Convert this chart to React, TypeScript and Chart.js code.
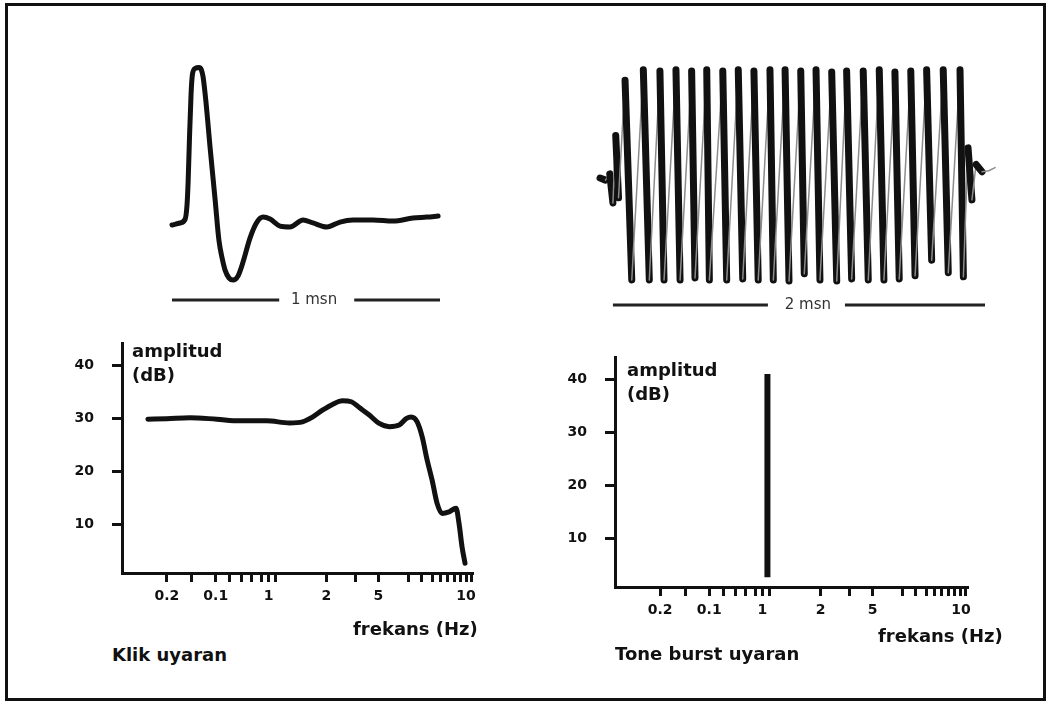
import React, { useEffect, useRef } from 'react';
import { Chart, registerables } from 'chart.js';

Chart.register(...registerables);

const FONT = "'DejaVu Sans', Verdana, sans-serif";

// Klik (click) stimulus waveform: time (ms) and relative amplitude
const clickTimeMs = [0, 0.03, 0.049, 0.056, 0.06, 0.065, 0.071, 0.076, 0.086, 0.101, 0.11, 0.116, 0.126, 0.143, 0.161, 0.175, 0.187, 0.198, 0.213, 0.228, 0.246, 0.265, 0.291, 0.317, 0.34, 0.366, 0.403, 0.44, 0.489, 0.526, 0.578, 0.627, 0.675, 0.75, 0.825, 0.899, 0.951, 0.993];
const clickAmp = [-0.019, -0.006, 0.019, 0.11, 0.253, 0.532, 0.825, 0.955, 0.997, 1.003, 0.987, 0.942, 0.792, 0.468, 0.143, -0.117, -0.234, -0.312, -0.364, -0.377, -0.351, -0.26, -0.104, 0, 0.032, 0.019, -0.026, -0.032, 0.013, -0.006, -0.032, 0, 0.013, 0.013, 0.006, 0.026, 0.032, 0.039];

// Tone burst stimulus waveform: time (ms) and relative amplitude
const burstTimeMs = [
  -0.064, -0.035, -0.012, 0.005, 0.02, 0.035,
  0.07, 0.106, 0.168, 0.2, 0.257, 0.279, 0.343, 0.365, 0.427, 0.445,
  0.508, 0.522, 0.594, 0.615, 0.677, 0.701, 0.761, 0.784, 0.847, 0.865,
  0.928, 0.949, 1.012, 1.031, 1.094, 1.115, 1.178, 1.205, 1.258, 1.285,
  1.347, 1.374, 1.433, 1.458, 1.517, 1.54, 1.602, 1.625, 1.687, 1.714,
  1.776, 1.803, 1.866, 1.884,
  1.909, 1.93, 1.952, 1.984, 2.02, 2.054,
];
const burstAmp = [
  -0.01, -0.03, 0.03, -0.25, 0.4, -0.2,
  0.93, -0.99, 1.03, -0.99, 1.02, -0.99, 1.03, -0.99, 1.02, -0.97,
  1.03, -0.99, 1.02, -0.99, 1.03, -0.98, 1.02, -0.99, 1.03, -0.99,
  1.03, -1.0, 1.02, -0.93, 1.03, -0.99, 1.01, -1.0, 1.02, -0.98,
  1.02, -0.99, 1.03, -0.99, 1.01, -0.98, 1.02, -0.95, 1.03, -0.8,
  1.03, -0.92, 1.03, -0.96,
  0.28, -0.22, 0.12, 0.05, 0.06, 0.09,
];

// Frequency axis (shared by both spectra): tick positions along the axis and their labels
const freqTickPos = [45, 70, 94, 108, 120, 130, 140, 147, 154, 205, 234, 257, 287, 300, 311, 319, 326, 333, 339, 345, 350];
const freqTickText = ['0.2', '', '0.1', '', '', '', '', '1', '', '2', '', '5', '', '', '', '', '', '', '', '10', ''];
const dbTicks = [10, 20, 30, 40];

// Klik spectrum: axis position and amplitude (dB)
const clickSpecPos = [26, 45, 68, 95, 118, 145, 168, 181, 191, 201, 211, 221, 230, 238, 248, 258, 268, 278, 285, 290, 296, 301, 306, 311, 316, 321, 328, 335, 338, 341, 344];
const clickSpecDb = [29.8, 29.9, 30.1, 29.8, 29.5, 29.5, 29.1, 29.3, 30.2, 31.5, 32.6, 33.3, 33.1, 32.0, 30.6, 29.0, 28.4, 28.7, 29.9, 30.2, 29.3, 26.5, 22.1, 18.3, 13.9, 12.0, 12.3, 13.0, 10.1, 5.7, 2.6];

// Tone burst spectrum: a single line
const burstSpecPos = [152, 152];
const burstSpecDb = [2.6, 41];

// Time scale bars (ms) under each waveform
const clickBarLeft = [0, 0.4];
const clickBarRight = [0.68, 1.0];
const burstBarLeft = [0.005, 0.836];
const burstBarRight = [1.249, 2.0];

const scaleBarLabel = {
  id: 'scaleBarLabel',
  afterDatasetsDraw(chart: any, _args: any, opts: any) {
    if (!opts || !opts.text) return;
    const { ctx, scales } = chart;
    const x = scales.x.getPixelForValue(opts.x);
    const y = scales.y.getPixelForValue(opts.y);
    ctx.save();
    ctx.font = opts.font;
    ctx.fillStyle = opts.color;
    ctx.textAlign = 'center';
    ctx.textBaseline = 'middle';
    ctx.fillText(opts.text, x, y);
    ctx.restore();
  },
};

const pts = (xs: number[], ys: number[]) => xs.map((x, i) => ({ x, y: ys[i] }));
const barPts = (xs: number[], level: number) => xs.map((x) => ({ x, y: level }));

function baseOptions(pad: any) {
  return {
    responsive: false,
    animation: false as const,
    events: [] as any[],
    layout: { padding: pad, autoPadding: false },
  };
}

function clickWaveConfig(): any {
  const level = -0.506;
  return {
    type: 'line',
    data: {
      datasets: [
        { data: pts(clickTimeMs, clickAmp), borderColor: '#111', borderWidth: 5, pointRadius: 0, cubicInterpolationMode: 'monotone', borderJoinStyle: 'round', borderCapStyle: 'round', clip: false },
        { data: barPts(clickBarLeft, level), borderColor: '#222', borderWidth: 3, pointRadius: 0, clip: false },
        { data: barPts(clickBarRight, level), borderColor: '#222', borderWidth: 3, pointRadius: 0, clip: false },
      ],
    },
    options: {
      ...baseOptions({ left: 22, right: 20, top: 10, bottom: 10 }),
      scales: {
        x: { type: 'linear', display: false, min: 0, max: 1 },
        y: { type: 'linear', display: false, min: -0.636, max: 1.117 },
      },
      plugins: {
        legend: { display: false },
        tooltip: { enabled: false },
        scaleBarLabel: { text: '1 msn', x: 0.53, y: level, font: `15px ${FONT}`, color: '#333' },
      },
    },
    plugins: [scaleBarLabel],
  };
}

function burstWaveConfig(): any {
  const level = -1.23;
  const falling = (c: any) => c.p1.parsed.y < c.p0.parsed.y;
  return {
    type: 'line',
    data: {
      datasets: [
        {
          data: pts(burstTimeMs, burstAmp), borderColor: '#111', borderWidth: 7, pointRadius: 0, tension: 0,
          borderCapStyle: 'round', clip: false,
          segment: {
            borderWidth: (c: any) => (falling(c) ? 7 : 1.5),
            borderColor: (c: any) => (falling(c) ? '#111' : '#8c8c8c'),
          },
        },
        { data: barPts(burstBarLeft, level), borderColor: '#222', borderWidth: 3, pointRadius: 0, clip: false },
        { data: barPts(burstBarRight, level), borderColor: '#222', borderWidth: 3, pointRadius: 0, clip: false },
      ],
    },
    options: {
      ...baseOptions({ left: 12, right: 15, top: 10, bottom: 10 }),
      scales: {
        x: { type: 'linear', display: false, min: -0.1072, max: 2.1072 },
        y: { type: 'linear', display: false, min: -1.375, max: 1.221 },
      },
      plugins: {
        legend: { display: false },
        tooltip: { enabled: false },
        scaleBarLabel: { text: '2 msn', x: 1.05, y: level, font: `15px ${FONT}`, color: '#333' },
      },
    },
    plugins: [scaleBarLabel],
  };
}

function spectrumScales(): any {
  const tickFont = { family: FONT, size: 14, weight: 'bold' };
  return {
    x: {
      type: 'linear', min: 0, max: 352,
      afterBuildTicks: (s: any) => { s.ticks = freqTickPos.map((v) => ({ value: v })); },
      afterFit: (s: any) => { s.height = 40; },
      ticks: { autoSkip: false, maxRotation: 0, padding: 6, color: '#111', font: tickFont, callback: (_v: any, i: number) => freqTickText[i] },
      grid: { drawOnChartArea: false, drawTicks: true, tickLength: 9, tickWidth: 3, tickColor: '#111', color: '#111' },
      border: { display: true, color: '#111', width: 3 },
    },
    y: {
      type: 'linear', min: 0.75, max: 44.2,
      afterBuildTicks: (s: any) => { s.ticks = dbTicks.map((v) => ({ value: v })); },
      afterFit: (s: any) => { s.width = 60; },
      ticks: { padding: 18, color: '#111', font: tickFont, callback: (v: any) => String(v) },
      grid: { drawOnChartArea: false, drawTicks: true, tickLength: 10, tickWidth: 3, tickColor: '#111', color: '#111' },
      border: { display: true, color: '#111', width: 3 },
    },
  };
}

function clickSpecConfig(): any {
  return {
    type: 'line',
    data: {
      datasets: [
        { data: pts(clickSpecPos, clickSpecDb), borderColor: '#111', borderWidth: 5, pointRadius: 0, cubicInterpolationMode: 'monotone', borderJoinStyle: 'round', borderCapStyle: 'round', clip: false },
      ],
    },
    options: {
      ...baseOptions({ left: 22, right: 27, top: 30, bottom: 17 }),
      scales: spectrumScales(),
      plugins: { legend: { display: false }, tooltip: { enabled: false } },
    },
  };
}

function burstSpecConfig(): any {
  return {
    type: 'line',
    data: {
      datasets: [
        { data: pts(burstSpecPos, burstSpecDb), borderColor: '#111', borderWidth: 6, pointRadius: 0, borderCapStyle: 'butt', clip: false },
      ],
    },
    options: {
      ...baseOptions({ left: 25, right: 52, top: 30, bottom: 13 }),
      scales: spectrumScales(),
      plugins: { legend: { display: false }, tooltip: { enabled: false } },
    },
  };
}

function ChartCanvas({ left, top, width, height, make }: { left: number; top: number; width: number; height: number; make: () => any }) {
  const ref = useRef<HTMLCanvasElement>(null);
  useEffect(() => {
    const chart = new Chart(ref.current as HTMLCanvasElement, make());
    return () => chart.destroy();
  }, []);
  return <canvas ref={ref} width={width} height={height} style={{ position: 'absolute', left, top, width, height }} />;
}

function Text({ x, baseline, children, size = 18 }: { x: number; baseline: number; children: React.ReactNode; size?: number }) {
  return (
    <div
      style={{
        position: 'absolute', left: x, top: baseline - 0.846 * size, fontFamily: FONT, fontWeight: 'bold',
        fontSize: size, lineHeight: `${size}px`, color: '#111', whiteSpace: 'nowrap',
      }}
    >
      {children}
    </div>
  );
}

export default function App() {
  return (
    <div style={{ position: 'absolute', left: 0, top: 0, width: 1049, height: 704, background: '#fff', overflow: 'hidden' }}>
      <div style={{ position: 'absolute', left: 5, top: 3, width: 1041, height: 698, boxSizing: 'border-box', border: '3px solid #111' }} />
      <ChartCanvas left={150} top={40} width={310} height={290} make={clickWaveConfig} />
      <ChartCanvas left={580} top={40} width={440} height={290} make={burstWaveConfig} />
      <ChartCanvas left={40} top={313} width={460} height={317} make={clickSpecConfig} />
      <ChartCanvas left={530} top={327} width={490} height={313} make={burstSpecConfig} />

      <Text x={132} baseline={357}>amplitud</Text>
      <Text x={132} baseline={381}>(dB)</Text>
      <Text x={353} baseline={635}>frekans (Hz)</Text>
      <Text x={112} baseline={661}>Klik uyaran</Text>

      <Text x={627} baseline={376}>amplitud</Text>
      <Text x={627} baseline={400}>(dB)</Text>
      <Text x={878} baseline={642}>frekans (Hz)</Text>
      <Text x={615} baseline={660}>Tone burst uyaran</Text>
    </div>
  );
}
